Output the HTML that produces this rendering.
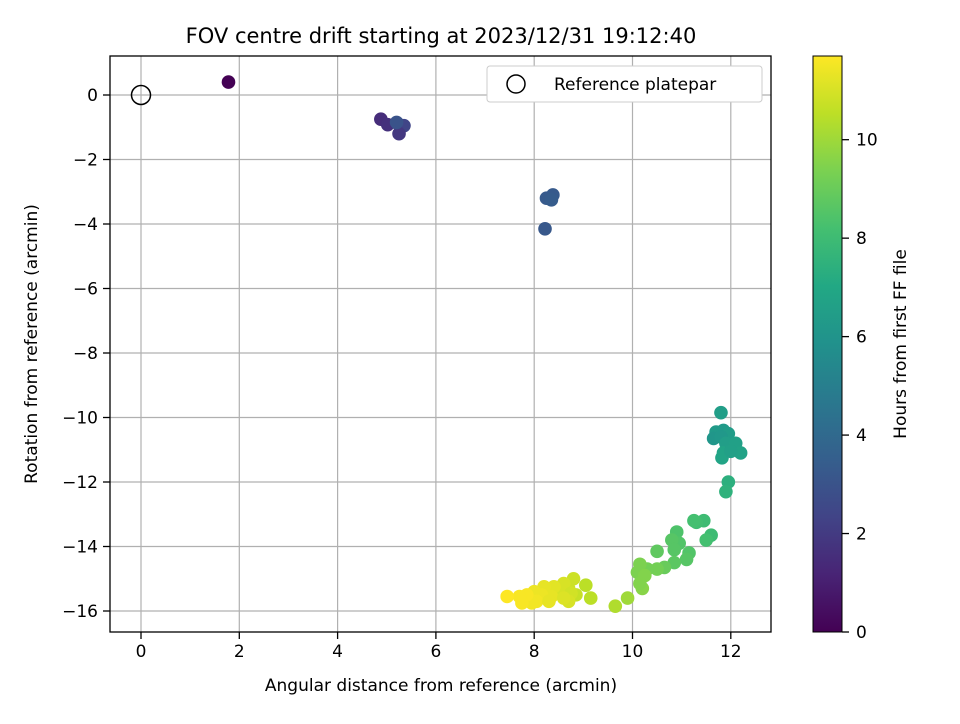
<!DOCTYPE html>
<html><head><meta charset="utf-8"><style>
body{margin:0;background:#fff;font-family:"DejaVu Sans",sans-serif}
svg text{font-family:"DejaVu Sans",sans-serif;fill:#000}
</style></head><body>
<svg id="chart" width="960" height="720" xmlns="http://www.w3.org/2000/svg">
<defs>
<linearGradient id="vir" x1="0" y1="1" x2="0" y2="0">
<stop offset="0" stop-color="#440154"/><stop offset="0.1" stop-color="#482475"/><stop offset="0.2" stop-color="#414487"/><stop offset="0.3" stop-color="#355f8d"/><stop offset="0.4" stop-color="#2a788e"/><stop offset="0.5" stop-color="#21918c"/><stop offset="0.6" stop-color="#22a884"/><stop offset="0.7" stop-color="#44bf70"/><stop offset="0.8" stop-color="#7ad151"/><stop offset="0.9" stop-color="#bddf26"/><stop offset="1" stop-color="#fde725"/>
</linearGradient>
<clipPath id="clip"><rect x="110" y="56" width="661" height="576"/></clipPath>
</defs>
<text x="441" y="43" font-size="21" text-anchor="middle">FOV centre drift starting at 2023/12/31 19:12:40</text>
<g id="grid"></g>
<g id="pts" clip-path="url(#clip)"></g>
<rect x="110" y="56" width="661" height="576" fill="none" stroke="#000" stroke-width="1.3"/>
<g id="ticks"></g>
<text x="441" y="691" font-size="17" text-anchor="middle">Angular distance from reference (arcmin)</text>
<text transform="translate(37,344) rotate(-90)" font-size="17" text-anchor="middle">Rotation from reference (arcmin)</text>
<g>
<rect x="487" y="66" width="275" height="36" rx="3" fill="#fff" stroke="#ccc"/>
<circle cx="516" cy="84" r="9" fill="none" stroke="#000" stroke-width="1.5"/>
<text x="554" y="90" font-size="17">Reference platepar</text>
</g>
<rect x="813" y="56" width="29" height="576" fill="url(#vir)" stroke="#000" stroke-width="1"/>
<g id="cbticks"></g>
<text transform="translate(906,344) rotate(-90)" font-size="17" text-anchor="middle">Hours from first FF file</text>
</svg>
<script>
const xTicks=[0,2,4,6,8,10,12];
const yTicks=[0,-2,-4,-6,-8,-10,-12,-14,-16];
const cTicks=[0,2,4,6,8,10];
const xs=[1.78,4.88,5.02,5.22,5.35,5.25,5.2,8.25,8.38,8.35,8.22,11.8,11.7,11.85,11.95,11.65,11.8,11.9,12.1,12.2,11.85,11.82,12.0,11.95,11.9,11.6,11.45,11.3,11.25,11.5,10.9,10.95,10.8,11.15,11.1,10.85,10.85,10.5,10.65,10.5,10.3,10.15,10.1,10.25,10.2,10.15,9.9,9.65,9.15,9.05,8.8,8.7,8.6,8.5,8.85,8.75,8.7,8.4,8.35,8.2,8.15,8.0,8.05,7.95,7.85,7.75,7.7,7.45,8.3,8.6];
const ys=[0.4,-0.75,-0.92,-0.88,-0.95,-1.2,-0.85,-3.2,-3.1,-3.25,-4.15,-9.85,-10.45,-10.4,-10.5,-10.65,-10.6,-10.8,-10.8,-11.1,-11.1,-11.25,-11.05,-12.0,-12.3,-13.65,-13.2,-13.25,-13.2,-13.8,-13.55,-13.9,-13.8,-14.2,-14.4,-14.1,-14.5,-14.15,-14.65,-14.7,-14.7,-14.55,-14.8,-14.9,-15.3,-15.15,-15.6,-15.85,-15.6,-15.2,-15.0,-15.3,-15.15,-15.4,-15.5,-15.45,-15.7,-15.25,-15.55,-15.25,-15.5,-15.4,-15.7,-15.75,-15.5,-15.75,-15.55,-15.55,-15.7,-15.6];
const hrs=[0,1.5,1.6,2.6,2.4,1.9,3.0,3.3,3.3,3.4,3.2,6.5,6.3,6.3,6.4,6.1,6.2,6.5,6.6,6.7,6.8,6.8,6.6,7.4,7.5,8.0,8.0,8.1,8.2,8.2,8.4,8.5,8.6,8.5,8.6,8.6,8.7,8.8,9.0,9.2,9.2,9.4,9.4,9.5,9.6,9.5,10.0,10.3,10.5,10.5,10.8,10.8,11,11,10.7,10.9,11,11.2,11.3,11.3,11.4,11.4,11.5,11.5,11.6,11.6,11.6,11.7,11.3,11.1];
const cMax=11.7;
const X=v=>141+v*49.15, Y=v=>95-v*32.25, C=v=>632-v*(576/cMax);
const vir=["#440154","#482475","#414487","#355f8d","#2a788e","#21918c","#22a884","#44bf70","#7ad151","#bddf26","#fde725"];
function col(h){let t=Math.max(0,Math.min(1,h/cMax))*10,i=Math.min(9,Math.floor(t)),f=t-i;
const a=vir[i],b=vir[i+1],p=(s,k)=>parseInt(s.substr(k,2),16);
let r=[1,3,5].map(k=>Math.round(p(a,k)+(p(b,k)-p(a,k))*f));return `rgb(${r})`;}
const NS="http://www.w3.org/2000/svg";
function mk(tag,attrs,parent,txt){const e=document.createElementNS(NS,tag);for(const k in attrs)e.setAttribute(k,attrs[k]);if(txt!==undefined)e.textContent=txt;document.getElementById(parent).appendChild(e);return e;}
xTicks.forEach(v=>{
const g=mk('line',{x1:X(v),x2:X(v),y1:56,y2:632,stroke:'#b0b0b0','stroke-width':1.2},'grid');


const t=mk('line',{x1:X(v),x2:X(v),y1:632,y2:639,stroke:'#000','stroke-width':1.3},'ticks');


const l=mk('text',{x:X(v),y:657,'font-size':17,'text-anchor':'middle'},'ticks',String(v));


});
yTicks.forEach(v=>{
const g=mk('line',{x1:110,x2:771,y1:Y(v),y2:Y(v),stroke:'#b0b0b0','stroke-width':1.2},'grid');


const t=mk('line',{x1:103,x2:110,y1:Y(v),y2:Y(v),stroke:'#000','stroke-width':1.3},'ticks');


const l=mk('text',{x:98,y:Y(v)+6,'font-size':17,'text-anchor':'end'},'ticks',v<0?'\u2212'+(-v):String(v));


});
cTicks.forEach(v=>{
const t=mk('line',{x1:842,x2:849,y1:C(v),y2:C(v),stroke:'#000','stroke-width':1.3},'cbticks');


const l=mk('text',{x:856,y:C(v)+6,'font-size':17},'cbticks',String(v));


});
const ref=mk('circle',{cx:X(0),cy:Y(0),r:9.5,fill:'none',stroke:'#000','stroke-width':1.5},'pts');


xs.forEach((v,i)=>{
const c=mk('circle',{cx:X(v),cy:Y(ys[i]),r:6.8,fill:col(hrs[i])},'pts');


});
</script>
</body></html>
